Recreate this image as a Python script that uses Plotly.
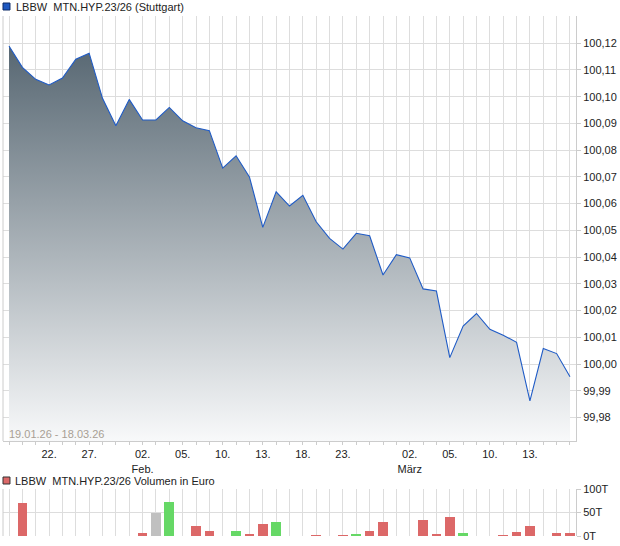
import plotly.graph_objects as go

# ---------------- data ----------------
dates = [
    "19.01.", "20.01.", "21.01.", "22.01.", "23.01.", "26.01.", "27.01.", "28.01.", "29.01.", "30.01.",
    "02.02.", "03.02.", "04.02.", "05.02.", "06.02.", "09.02.", "10.02.", "11.02.", "12.02.", "13.02.",
    "16.02.", "17.02.", "18.02.", "19.02.", "20.02.", "23.02.", "24.02.", "25.02.", "26.02.", "27.02.",
    "02.03.", "03.03.", "04.03.", "05.03.", "06.03.", "09.03.", "10.03.", "11.03.", "12.03.", "13.03.",
    "16.03.", "17.03.", "18.03.",
]

prices = [
    100.1190, 100.1110, 100.1065, 100.1044, 100.1070, 100.1140, 100.1163, 100.0994, 100.0891, 100.0990,
    100.0913, 100.0913, 100.0960, 100.0910, 100.0884, 100.0873, 100.0733, 100.0779, 100.0700, 100.0511,
    100.0644, 100.0591, 100.0631, 100.0532, 100.0470, 100.0430, 100.0489, 100.0480, 100.0333, 100.0409,
    100.0397, 100.0281, 100.0273, 100.0024, 100.0142, 100.0189, 100.0130, 100.0108, 100.0081, 99.9862,
    100.0058, 100.0039, 99.9952,
]

# volume in thousand euro (T)
volume_t = [
    0, 70, 0, 0, 0, 0, 0, 0, 0, 0,
    6, 50, 72, 0, 21, 10, 0, 10, 4, 25,
    29, 0, 0, 2, 0, 2, 4, 10, 29, 0,
    0, 34, 4, 40, 6, 0, 0, 2, 8, 21,
    0, 6, 6,
]

tick_labels = {
    "22.01.": "22.", "27.01.": "27.", "02.02.": "02.<br>Feb.", "05.02.": "05.",
    "10.02.": "10.", "13.02.": "13.", "18.02.": "18.", "23.02.": "23.",
    "02.03.": "02.<br>März", "05.03.": "05.", "10.03.": "10.", "13.03.": "13.",
}

price_ticks = [99.98, 99.99, 100.00, 100.01, 100.02, 100.03, 100.04, 100.05,
               100.06, 100.07, 100.08, 100.09, 100.10, 100.11, 100.12]
volume_ticks = [0, 50, 100]
volume_tick_text = ["0T", "50T", "100T"]

title_main = "LBBW  MTN.HYP.23/26 (Stuttgart)"
title_volume = "LBBW  MTN.HYP.23/26 Volumen in Euro"
period_text = "19.01.26 - 18.03.26"

# ---------------- styling / layout ----------------
W, H = 620, 546
ML, MR, MT, MB = 3, 42, 16, 10
PW, PH = W - ML - MR, H - MT - MB


def px_x(x):
    return (x - ML) / PW


def px_y(y):
    return (H - MB - y) / PH


main_bottom = px_y(441)
vol_top = px_y(489)

RED, GREEN, GRAY = "#dc6868", "#66d866", "#c0c0c0"
bar_colors = []
for i, v in enumerate(prices):
    if i == 0:
        bar_colors.append(GRAY)
        continue
    d = round(v - prices[i - 1], 5)
    bar_colors.append(GREEN if d > 0 else (RED if d < 0 else GRAY))

y_min, y_max = 99.9712, 100.1302

font_family = "Liberation Sans, Arial, sans-serif"
grid = "#dddddd"
axis_line = "#cccccc"

fig = go.Figure()

fig.add_trace(go.Scatter(
    x=dates, y=prices, mode="lines",
    line=dict(color="#1f5bc6", width=1.1),
    fill="tozeroy",
    fillgradient=dict(type="vertical", start=y_min, stop=y_max,
                      colorscale=[[0, "#f8f9fa"], [1, "#4b5c68"]]),
    xaxis="x", yaxis="y", showlegend=False, hoverinfo="skip",
))

fig.add_trace(go.Bar(
    x=dates, y=volume_t, marker=dict(color=bar_colors, line=dict(width=0)),
    width=0.72, xaxis="x2", yaxis="y2", showlegend=False, hoverinfo="skip",
))

x_ticktext = [tick_labels.get(d, "") for d in dates]
xr = [-0.45, len(dates) - 1 + 0.45]

fig.update_layout(
    width=W, height=H,
    margin=dict(l=ML, r=MR, t=MT, b=MB),
    paper_bgcolor="white", plot_bgcolor="white",
    separators=",.",
    font=dict(family=font_family, size=11, color="#222222"),
    xaxis=dict(
        type="category", domain=[0, 1], anchor="y", range=xr,
        tickmode="array", tickvals=dates, ticktext=x_ticktext,
        showgrid=True, gridcolor=grid, gridwidth=1,
        ticks="outside", ticklen=3, tickcolor=axis_line,
        showline=True, linecolor=axis_line, linewidth=1,
        tickfont=dict(size=11, color="#222222"), zeroline=False,
    ),
    yaxis=dict(
        domain=[main_bottom, 1], anchor="x", side="right",
        range=[y_min, y_max], tickmode="array", tickvals=price_ticks,
        tickformat=".2f",
        showgrid=True, gridcolor=grid, gridwidth=1,
        ticks="outside", ticklen=4, tickcolor=axis_line,
        showline=True, linecolor=axis_line, linewidth=1,
        zeroline=False, tickfont=dict(size=11, color="#222222"),
    ),
    xaxis2=dict(
        type="category", domain=[0, 1], anchor="y2", range=xr,
        tickmode="array", tickvals=dates, ticktext=["" for _ in dates],
        showgrid=True, gridcolor=grid, gridwidth=1,
        showline=False, zeroline=False, ticks="",
    ),
    yaxis2=dict(
        domain=[0, vol_top], anchor="x2", side="right",
        range=[0, 100], tickmode="array", tickvals=volume_ticks,
        ticktext=volume_tick_text,
        showgrid=True, gridcolor=grid, gridwidth=1,
        ticks="outside", ticklen=4, tickcolor=axis_line,
        showline=True, linecolor=axis_line, linewidth=1,
        zeroline=False, tickfont=dict(size=11, color="#222222"),
    ),
    bargap=0,
)

shapes = [
    # left borders
    dict(type="line", xref="paper", yref="paper", x0=0, x1=0, y0=main_bottom, y1=1,
         line=dict(color=axis_line, width=1)),
    dict(type="line", xref="paper", yref="paper", x0=0, x1=0, y0=0, y1=vol_top,
         line=dict(color=axis_line, width=1)),
    # legend squares
    dict(type="rect", xref="paper", yref="paper",
         x0=px_x(3), x1=px_x(10), y0=px_y(10), y1=px_y(3),
         fillcolor="#1e58c0", line=dict(color="#0c2a66", width=1)),
    dict(type="rect", xref="paper", yref="paper",
         x0=px_x(3), x1=px_x(10), y0=px_y(484), y1=px_y(477),
         fillcolor=RED, line=dict(color="#333333", width=1)),
]
fig.update_layout(shapes=shapes)

fig.add_annotation(text=title_main, xref="paper", yref="paper",
                   x=px_x(14), y=px_y(7), xanchor="left", yanchor="middle",
                   showarrow=False, font=dict(size=11, color="#222222"))
fig.add_annotation(text=title_volume, xref="paper", yref="paper",
                   x=px_x(13), y=px_y(480.5), xanchor="left", yanchor="middle",
                   showarrow=False, font=dict(size=11, color="#222222"))
fig.add_annotation(text=period_text, xref="paper", yref="paper",
                   x=px_x(7), y=px_y(434), xanchor="left", yanchor="middle",
                   showarrow=False, font=dict(size=11, color="#a89f94"))

fig.write_html(
    "out.html",
    config={"displayModeBar": False, "staticPlot": True},
    post_script="document.body.style.margin='0';document.body.style.padding='0';"
                "document.documentElement.style.overflow='hidden';",
)
